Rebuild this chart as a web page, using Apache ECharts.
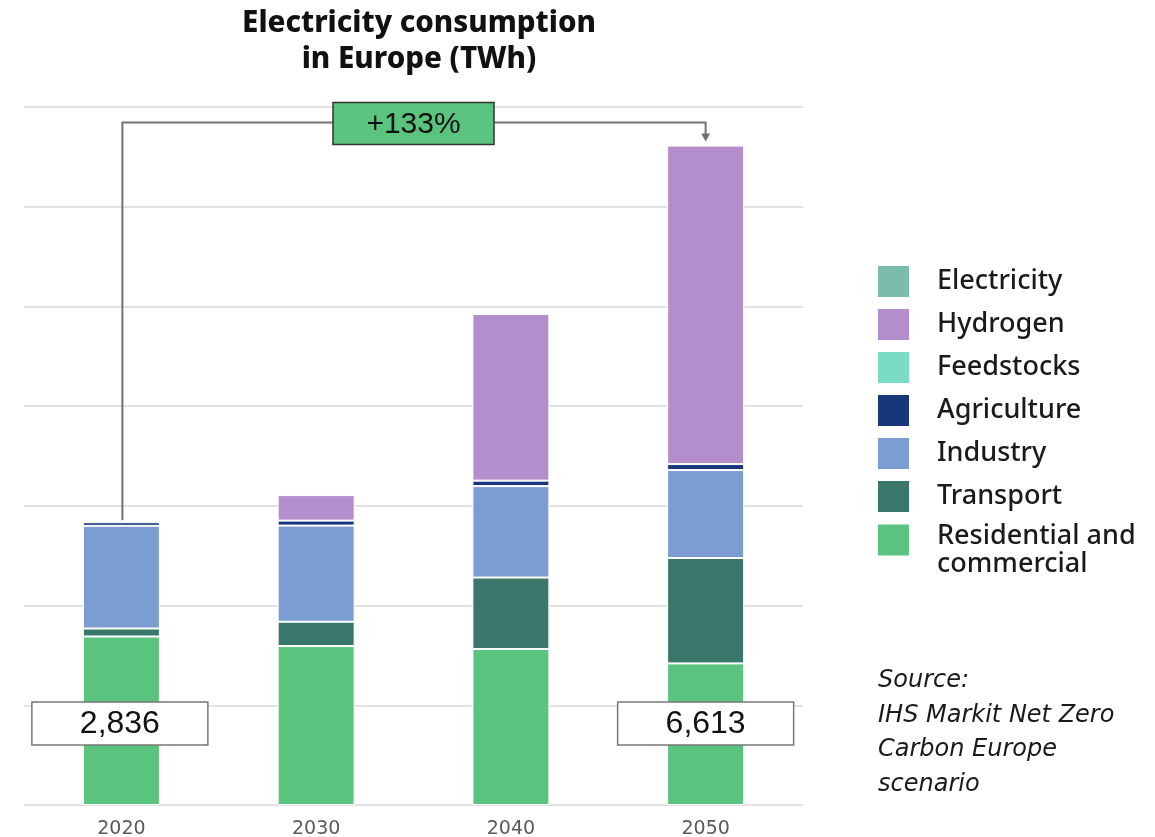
<!DOCTYPE html>
<html>
<head>
<meta charset="utf-8">
<script src="https://cdn.jsdelivr.net/npm/echarts@6/dist/echarts.min.js"></script>
<style>
  html, body { margin: 0; padding: 0; background: #fff; }
  #chart { width: 1155px; height: 837px; }
</style>
</head>
<body>
<div id="chart"></div>
<script>
// categories and values (TWh)
var categories = ['2020', '2030', '2040', '2050'];
var residential = [1690, 1594, 1564, 1420];
var transport = [80, 244, 717, 1057];
var industry = [1030, 964, 917, 882];
var agriculture = [36, 50, 55, 60];
var feedstocks = [0, 0, 0, 0];
var hydrogen = [0, 256, 1671, 3194];
var electricity = [0, 0, 0, 0];
var totalLabels = ['2,836', '6,613'];
var growthLabel = '+133%';

var chartDom = document.getElementById('chart');
var myChart = echarts.init(chartDom, null, { renderer: 'canvas' });

// bottom -> top stacking
var seriesDefs = [
    { name: 'Residential and commercial', data: residential, color: '#5ac47f' },
    { name: 'Transport', data: transport, color: '#38776a' },
    { name: 'Industry', data: industry, color: '#7b9dd2' },
    { name: 'Agriculture', data: agriculture, color: '#17377a' },
    { name: 'Feedstocks', data: feedstocks, color: '#7bdcc6' },
    { name: 'Hydrogen', data: hydrogen, color: '#b48ecc' },
    { name: 'Electricity', data: electricity, color: '#7bbcad' }
];

var legendNames = seriesDefs.map(function (s) { return s.name; }).reverse();

var legendBase = {
    orient: 'vertical',
    left: 876,
    padding: 0,
    itemWidth: 33,
    itemHeight: 33,
    itemGap: 8,
    icon: 'rect',
    selectedMode: false,
    textStyle: {
        fontFamily: 'Noto Sans',
        fontWeight: 500,
        fontSize: 27,
        lineHeight: 28,
        color: '#1a1a1a',
        padding: [0, 0, 0, 22]
    }
};

var option = {
    animation: false,
    title: {
        text: 'Electricity consumption\nin Europe (TWh)',
        left: 414,
        textAlign: 'center',
        top: 1,
        textStyle: {
            fontFamily: 'Noto Sans',
            fontWeight: 800,
            fontSize: 29.5,
            lineHeight: 36,
            color: '#111'
        }
    },
    legend: [
        Object.assign({}, legendBase, {
            top: 264,
            data: legendNames.slice(0, 6)
        }),
        // the two-line entry: its text hangs a bit below the square
        Object.assign({}, legendBase, {
            top: 502,
            data: legendNames.slice(6),
            formatter: function () {
                return '{s| }\n{t|Residential and}\n{t|commercial}';
            },
            textStyle: Object.assign({}, legendBase.textStyle, {
                rich: {
                    s: { fontSize: 1, lineHeight: 20 },
                    t: {
                        fontFamily: 'Noto Sans',
                        fontWeight: 500,
                        fontSize: 27,
                        lineHeight: 28,
                        color: '#1a1a1a'
                    }
                }
            })
        })
    ],
    grid: {
        left: 24,
        right: 352,
        top: 107,
        bottom: 32,
        containLabel: false,
        outerBoundsMode: 'none'
    },
    xAxis: {
        type: 'category',
        data: categories,
        axisLine: { show: false },
        axisTick: { show: false },
        axisLabel: {
            margin: 15,
            fontFamily: 'DejaVu Sans',
            fontSize: 19,
            color: '#5a5a5a'
        }
    },
    yAxis: {
        type: 'value',
        min: 0,
        max: 7000,
        interval: 1000,
        axisLabel: { show: false },
        axisLine: { show: false },
        axisTick: { show: false },
        splitLine: { lineStyle: { color: '#e2e2e2', width: 2 } }
    },
    series: seriesDefs.map(function (s) {
        return {
            name: s.name,
            type: 'bar',
            stack: 'total',
            barWidth: 77,
            data: s.data.map(function (v) { return v || null; }),
            itemStyle: {
                color: s.color,
                borderColor: '#fff',
                borderWidth: 1
            }
        };
    })
};

option && myChart.setOption(option);

// annotations anchored to the stacked totals
var totals = categories.map(function (c, i) {
    return seriesDefs.reduce(function (acc, s) { return acc + s.data[i]; }, 0);
});
var first = myChart.convertToPixel({ gridIndex: 0 }, [0, totals[0]]);
var last = myChart.convertToPixel({ gridIndex: 0 }, [categories.length - 1, totals[categories.length - 1]]);
var base = myChart.convertToPixel({ gridIndex: 0 }, [0, 0]);
var lastBase = myChart.convertToPixel({ gridIndex: 0 }, [categories.length - 1, 0]);
var bracketY = last[1] - 23;
var midX = (first[0] + last[0]) / 2;
var lineColor = '#74746c';

function valueBox(x, y, text) {
    return {
        type: 'group',
        x: x,
        y: y,
        z: 100,
        children: [
            {
                type: 'rect',
                z: 100,
                shape: { x: -88, y: -21.5, width: 176, height: 43 },
                style: { fill: '#fff', stroke: '#777', lineWidth: 1.5 }
            },
            {
                type: 'text',
                z: 101,
                style: {
                    text: text,
                    x: 0, y: 1,
                    align: 'center',
                    verticalAlign: 'middle',
                    fontFamily: 'Liberation Sans',
                    fontSize: 32,
                    fill: '#111'
                }
            }
        ]
    };
}

myChart.setOption({
    graphic: [
        {
            type: 'polyline',
            z: 100,
            shape: {
                points: [
                    [first[0] + 1, first[1] - 2],
                    [first[0] + 1, bracketY],
                    [last[0], bracketY],
                    [last[0], last[1] - 10]
                ]
            },
            style: { stroke: lineColor, lineWidth: 2, fill: null }
        },
        {
            type: 'polygon',
            z: 100,
            shape: {
                points: [
                    [last[0] - 4.5, last[1] - 12],
                    [last[0] + 4.5, last[1] - 12],
                    [last[0], last[1] - 4]
                ]
            },
            style: { fill: lineColor }
        },
        {
            type: 'group',
            x: midX,
            y: bracketY + 1,
            z: 100,
            children: [
                {
                    type: 'rect',
                    z: 100,
                    shape: { x: -80.5, y: -21, width: 161, height: 42 },
                    style: { fill: '#5ac47f', stroke: '#333', lineWidth: 1.5 }
                },
                {
                    type: 'text',
                    z: 101,
                    style: {
                        text: growthLabel,
                        x: 0, y: 1,
                        align: 'center',
                        verticalAlign: 'middle',
                        fontFamily: 'Liberation Sans Narrow, Liberation Sans',
                        fontSize: 30,
                        fill: '#111'
                    }
                }
            ]
        },
        valueBox(first[0] - 1.5, base[1] - 81.5, totalLabels[0]),
        valueBox(lastBase[0], lastBase[1] - 81.5, totalLabels[1]),
        {
            type: 'text',
            left: 878,
            top: 664,
            z: 100,
            style: {
                text: 'Source:\nIHS Markit Net Zero\nCarbon Europe\nscenario',
                fontFamily: 'DejaVu Sans',
                fontStyle: 'italic',
                fontSize: 24,
                lineHeight: 34.4,
                fill: '#1a1a1a'
            }
        }
    ]
});
</script>
</body>
</html>
